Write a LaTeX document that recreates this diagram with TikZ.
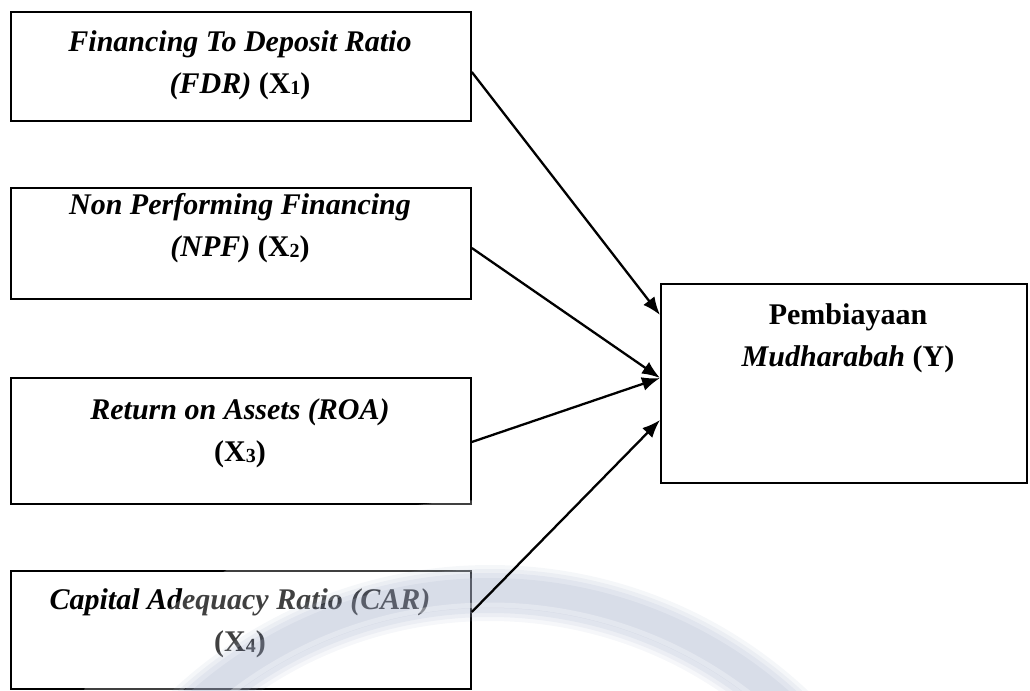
\documentclass[tikz,border=0pt]{standalone}
\usepackage{fontspec}
\setmainfont{Liberation Serif}
\usetikzlibrary{arrows.meta}
\definecolor{wm}{RGB}{178,188,210}
\newcommand{\subd}[1]{\raisebox{-1.5bp}{\fontsize{20bp}{20bp}\selectfont #1}}
\begin{document}
\begin{tikzpicture}[x=1bp,y=-1bp,
  box/.style={draw, line width=1.8bp, minimum width=460bp, inner sep=0pt, anchor=north west},
  lbl/.style={font=\fontsize{30bp}{42bp}\selectfont\bfseries, align=center, inner sep=0pt},
  link/.style={line width=2.3bp, -{Latex[length=18bp,width=14bp]}},
  wmband/.style={wm, line cap=butt}]
\useasboundingbox (0,0) rectangle (1030,691);
\clip (0,0) rectangle (1030,691);

\node[box, minimum height=109bp] (b1) at (10,11) {};
\node[box, minimum height=111bp] (b2) at (10,187) {};
\node[box, minimum height=126bp] (b3) at (10,377) {};
\node[box, minimum height=118bp] (b4) at (10,570) {};
\node[draw, line width=1.8bp, minimum width=366bp, minimum height=199bp, inner sep=0pt, anchor=north west] (y) at (660,283) {};

\node[lbl] (t1) at (240,65) {\textit{Financing To Deposit Ratio}\\ \textit{(FDR)} (X\subd{1})};
\node[lbl] (t2) at (240,228) {\textit{Non Performing Financing}\\ \textit{(NPF)} (X\subd{2})};
\node[lbl] (t3) at (240,433) {\textit{Return on Assets (ROA)}\\ (X\subd{3})};
\node[lbl] (t4) at (240,623) {\textit{Capital Adequacy Ratio (CAR)}\\ (X\subd{4})};
\node[lbl] (ty) at (848,338) {Pembiayaan\\ \textit{Mudharabah} (Y)};

% faint watermark ring (scan artefact)
\draw[white, line width=72bp, opacity=0.25] (490,1030) ++(-140:494) arc[start angle=-140, end angle=-40, radius=494];
\foreach \w/\o in {56/0.12, 48/0.15, 40/0.18, 30/0.2}{
  \draw[wmband, line width=\w bp, opacity=\o] (490,1030) ++(-135:437) arc[start angle=-135, end angle=-45, radius=437];
}
\draw[white, line width=5bp, opacity=0.3] (490,1030) ++(-135:425) arc[start angle=-135, end angle=-45, radius=425];

\draw[link] ([yshift=-61bp]b1.north east) -- ([yshift=-32bp]y.north west);
\draw[link] ([yshift=-61bp]b2.north east) -- ([yshift=-95bp]y.north west);
\draw[link] ([yshift=-65bp]b3.north east) -- ([yshift=-95bp]y.north west);
\draw[link] ([yshift=-42bp]b4.north east) -- ([yshift=-137bp]y.north west);
\end{tikzpicture}
\end{document}
